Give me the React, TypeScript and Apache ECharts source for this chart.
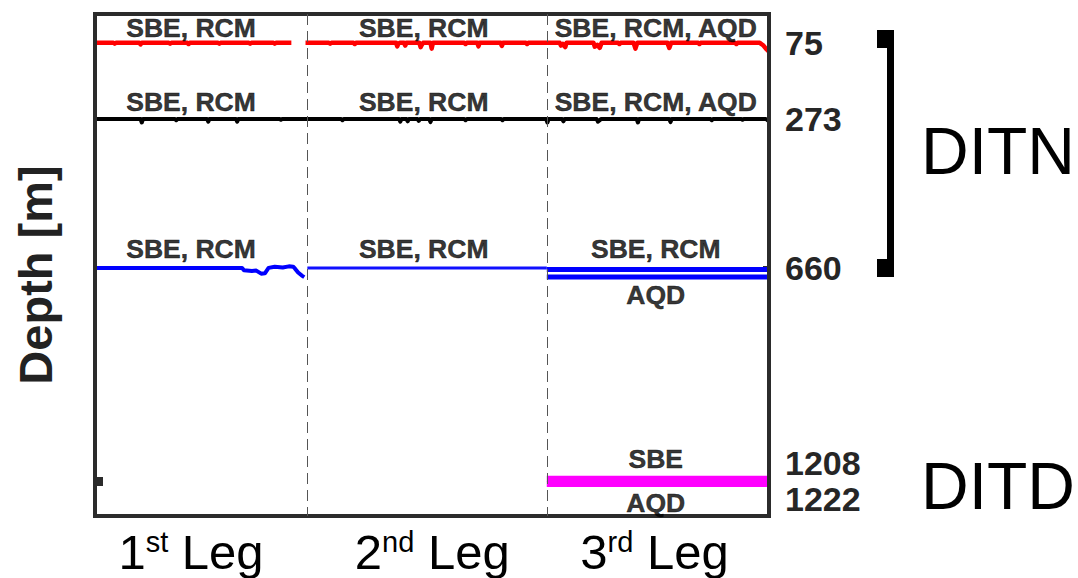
import React, { useEffect, useRef } from "react";
import * as echarts from "echarts";

// ---- axes (time in days since first deployment, depth in metres) ----
const DAY_MAX = 1095;
const DEPTH_MAX = 1305;
const LEG_BOUNDS = [345, 734];
const LEG_ORD = [
  ["1", "st"],
  ["2", "nd"],
  ["3", "rd"],
];
const AXIS_LABEL_DAYS = [156, 548, 909];
const INSTR_LABEL_DAYS = [156, 534, 911];
const DEPTH_LABELS = [75, 273, 660];
const DITD_DEPTHS = [1208, 1222];

// ---- series: [day, depth] ----
const RED_LEG1 = [
  [0, 75], [30, 75], [32, 77], [34, 75], [72, 75], [74, 79], [76, 75], [120, 75], [122, 77],
  [124, 75], [150, 75], [152, 78], [154, 75], [200, 75], [202, 77], [204, 75], [250, 75],
  [252, 77], [254, 75], [290, 75], [292, 77], [294, 75], [319, 75],
];
const RED_LEG23 = [
  [342, 75], [380, 75], [382, 77], [384, 75], [420, 75], [422, 78], [424, 75], [489, 75],
  [491, 84], [493, 77], [495, 75], [502, 75], [504, 82], [506, 75], [527, 75], [529, 86],
  [531, 80], [533, 75], [545, 75], [547, 90], [549, 75], [600, 75], [602, 78], [604, 75],
  [621, 75], [623, 84], [625, 75], [659, 75], [661, 83], [663, 75], [700, 75], [702, 78],
  [704, 75], [755, 75], [757, 82], [760, 78], [764, 86], [766, 75], [810, 75], [812, 85],
  [816, 80], [820, 88], [823, 75], [850, 75], [852, 78], [854, 75], [875, 75], [878, 90],
  [881, 75], [930, 75], [933, 88], [936, 75], [980, 75], [982, 78], [984, 75], [1040, 75],
  [1042, 78], [1044, 75], [1080, 75], [1086, 82], [1090, 90], [1095, 98],
];
const BLACK_ALL = [
  [0, 273], [74, 273], [76, 282], [78, 273], [130, 273], [132, 276], [134, 273], [182, 273],
  [184, 280], [186, 273], [229, 273], [231, 280], [233, 273], [300, 273], [302, 275],
  [304, 273], [345, 273], [400, 273], [402, 276], [404, 273], [494, 273], [496, 280],
  [498, 273], [506, 273], [508, 279], [510, 273], [524, 273], [526, 278], [528, 273],
  [543, 273], [545, 281], [547, 273], [600, 273], [602, 276], [604, 273], [660, 273],
  [662, 276], [664, 273], [733, 273], [735, 282], [737, 273], [759, 273], [761, 279],
  [763, 273], [815, 273], [817, 280], [820, 276], [822, 273], [880, 273], [882, 282],
  [884, 273], [933, 273], [935, 281], [937, 273], [1000, 273], [1002, 276], [1004, 273],
  [1050, 273], [1052, 275], [1054, 273], [1090, 273], [1095, 279],
];
const BLUE_LEG1 = [
  [0, 660], [60, 660], [120, 660], [180, 660], [239, 660], [242, 666], [255, 668], [262, 667],
  [270, 675], [276, 674], [282, 660], [292, 657], [305, 659], [315, 656], [322, 657],
  [325, 662], [330, 672], [336, 680], [340, 684],
];
const BLUE_LEG2 = [[345, 660], [540, 660], [734, 660]];
const BLUE_LEG3_SBE = [[734, 664], [1095, 664]];
const BLUE_LEG3_AQD = [[734, 684], [1095, 684]];
const MAG_LEG3_SBE = [[734, 1208], [1095, 1208]];
const MAG_LEG3_AQD = [[734, 1222], [1095, 1222]];

// ---- instrument annotations: leg index, depth they belong to, text, side ----
const INSTR_LABELS = [
  { leg: 0, depth: 75, text: "SBE, RCM", side: "top" },
  { leg: 1, depth: 75, text: "SBE, RCM", side: "top" },
  { leg: 2, depth: 75, text: "SBE, RCM, AQD", side: "top" },
  { leg: 0, depth: 273, text: "SBE, RCM", side: "top" },
  { leg: 1, depth: 273, text: "SBE, RCM", side: "top" },
  { leg: 2, depth: 273, text: "SBE, RCM, AQD", side: "top" },
  { leg: 0, depth: 660, text: "SBE, RCM", side: "top" },
  { leg: 1, depth: 660, text: "SBE, RCM", side: "top" },
  { leg: 2, depth: 660, text: "SBE, RCM", side: "top" },
  { leg: 2, depth: 684, text: "AQD", side: "bottom" },
  { leg: 2, depth: 1208, text: "SBE", side: "top" },
  { leg: 2, depth: 1222, text: "AQD", side: "bottom" },
];
const LABEL_GAP: Record<number, number> = { 75: 0.5, 273: 3, 660: 5, 684: 4, 1208: 6, 1222: 5 };

const FONT = "Liberation Sans, Arial, sans-serif";

export default function App() {
  const ref = useRef<HTMLDivElement>(null);
  useEffect(() => {
    if (!ref.current) return;
    const chart = echarts.init(ref.current, null, { renderer: "svg" });
    const pairMid = (DITD_DEPTHS[0] + DITD_DEPTHS[1]) / 2;

    const line = (data: number[][], color: string, width: number) => ({
      type: "line",
      data,
      showSymbol: false,
      symbol: "none",
      lineStyle: { color, width, join: "round" },
      z: 3,
    });

    const option: any = {
      animation: false,
      grid: {
        left: 95,
        right: 309,
        top: 14,
        bottom: 62,
        show: true,
        borderColor: "#2b2b2b",
        borderWidth: 4,
        backgroundColor: "transparent",
        z: 5,
      },
      xAxis: {
        type: "value",
        min: 0,
        max: DAY_MAX,
        axisLine: { show: false },
        axisTick: { show: false },
        splitLine: { show: false },
        axisLabel: {
          customValues: AXIS_LABEL_DAYS,
          margin: 11,
          formatter: (v: number) => {
            const i = AXIS_LABEL_DAYS.indexOf(v);
            if (i < 0) return "";
            return `{n|${LEG_ORD[i][0]}}{s|${LEG_ORD[i][1]}}{n| Leg}`;
          },
          rich: {
            n: { fontSize: 49, fontFamily: FONT, color: "#000", lineHeight: 50 },
            s: { fontSize: 29, fontFamily: FONT, color: "#000", verticalAlign: "top", lineHeight: 32 },
          },
        },
      },
      yAxis: [
        {
          type: "value",
          min: 0,
          max: DEPTH_MAX,
          inverse: true,
          name: "Depth [m]",
          nameLocation: "middle",
          nameRotate: 90,
          nameGap: 36,
          nameTextStyle: {
            fontSize: 47,
            fontWeight: "bold",
            fontFamily: FONT,
            color: "#222",
            padding: [0, 20, 0, 0],
          },
          axisLine: { show: false },
          axisLabel: { show: false },
          splitLine: { show: false },
          axisTick: {
            show: true,
            inside: true,
            customValues: [pairMid],
            length: 8,
            lineStyle: { color: "#2b2b2b", width: 9 },
          },
        },
        {
          type: "value",
          min: 0,
          max: DEPTH_MAX,
          inverse: true,
          position: "right",
          axisLine: { show: false },
          splitLine: { show: false },
          axisTick: {
            show: true,
            inside: true,
            customValues: [DEPTH_LABELS[2]],
            length: 6,
            lineStyle: { color: "#2b2b2b", width: 5 },
          },
          axisLabel: {
            customValues: [...DEPTH_LABELS, pairMid],
            margin: 16,
            fontSize: 34,
            fontWeight: "bold",
            fontFamily: FONT,
            color: "#262626",
            lineHeight: 36,
            padding: [6, 0, 0, 0],
            formatter: (v: number) => (v === pairMid ? `${DITD_DEPTHS[0]}\n${DITD_DEPTHS[1]}` : String(v)),
          },
        },
      ],
      series: [
        line(RED_LEG1, "#ff0000", 4.5),
        line(RED_LEG23, "#ff0000", 4.5),
        line(BLACK_ALL, "#000000", 4),
        line(BLUE_LEG1, "#0000ff", 4),
        line(BLUE_LEG2, "#1010ff", 3),
        line(BLUE_LEG3_SBE, "#0000ff", 5),
        line(BLUE_LEG3_AQD, "#0000ff", 5),
        line(MAG_LEG3_SBE, "#ff00ff", 6),
        line(MAG_LEG3_AQD, "#ff00ff", 6),
        {
          type: "line",
          data: [],
          markLine: {
            silent: true,
            symbol: "none",
            label: { show: false },
            lineStyle: { color: "#555", width: 1, type: [11, 6] },
            data: LEG_BOUNDS.map((d) => ({ xAxis: d })),
          },
          z: 2,
        },
        {
          type: "scatter",
          symbolSize: 1,
          itemStyle: { color: "transparent" },
          z: 6,
          data: INSTR_LABELS.map((l) => ({
            value: [INSTR_LABEL_DAYS[l.leg], l.depth],
            name: l.text,
            label: {
              show: true,
              position: l.side,
              distance: LABEL_GAP[l.depth] ?? 3,
              formatter: l.text,
              fontSize: 26.5,
              fontWeight: "bold",
              fontFamily: FONT,
              color: "#000",
              textBorderColor: "#000",
              textBorderWidth: 0.5,
            },
          })),
        },
      ],
      graphic: [
        { type: "rect", shape: { x: 887, y: 30, width: 7, height: 247 }, style: { fill: "#000" } },
        { type: "rect", shape: { x: 877, y: 30, width: 16, height: 18 }, style: { fill: "#000" } },
        { type: "rect", shape: { x: 877, y: 259, width: 16, height: 18 }, style: { fill: "#000" } },
        {
          type: "text",
          x: 921,
          y: 151,
          style: { text: "DITN", font: `66px ${FONT}`, fill: "#000", verticalAlign: "middle" },
        },
        {
          type: "text",
          x: 921,
          y: 486,
          style: { text: "DITD", font: `66px ${FONT}`, fill: "#000", verticalAlign: "middle" },
        },
      ],
    };
    chart.setOption(option);
    return () => chart.dispose();
  }, []);
  return (
    <div
      ref={ref}
      style={{ position: "fixed", left: 0, top: 0, width: 1078, height: 578, background: "#fff" }}
    />
  );
}
